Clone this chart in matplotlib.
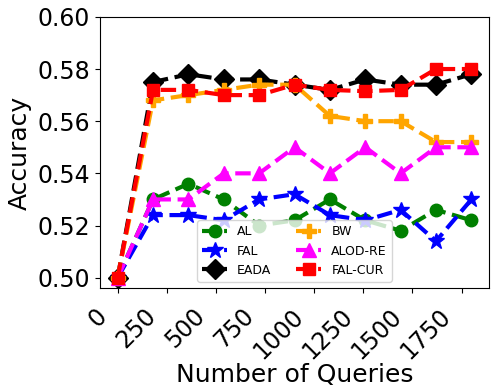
import numpy as np
from matplotlib import pyplot as plt
from matplotlib import transforms

queries = [0, 180, 360, 540, 720, 900, 1080, 1260, 1440, 1620, 1800]

acc_al = [0.500, 0.530, 0.536, 0.530, 0.520, 0.522, 0.530, 0.522, 0.518, 0.526, 0.522]
acc_fal = [0.500, 0.524, 0.524, 0.522, 0.530, 0.532, 0.524, 0.522, 0.526, 0.514, 0.530]
acc_eada = [0.500, 0.575, 0.578, 0.576, 0.576, 0.574, 0.572, 0.576, 0.574, 0.574, 0.578]
acc_bw = [0.500, 0.568, 0.570, 0.572, 0.574, 0.574, 0.562, 0.560, 0.560, 0.552, 0.552]
acc_alod = [0.500, 0.530, 0.530, 0.540, 0.540, 0.550, 0.540, 0.550, 0.540, 0.550, 0.550]
acc_falcur = [0.500, 0.572, 0.572, 0.570, 0.570, 0.574, 0.572, 0.5715, 0.572, 0.580, 0.580]

series = [
    ('AL', acc_al, 'green', 'o', 9),
    ('FAL', acc_fal, 'blue', '*', 12),
    ('EADA', acc_eada, 'black', 'D', 10),
    ('BW', acc_bw, 'orange', 'P', 10),
    ('ALOD-RE', acc_alod, 'magenta', '^', 10),
    ('FAL-CUR', acc_falcur, 'red', 's', 9),
]

fig = plt.figure(figsize=(4.95, 3.92), dpi=100)
ax = fig.add_axes([0.202, 0.265, 0.786, 0.692])

for name, vals, color, marker, ms in series:
    ax.plot(queries, vals, linestyle='--', marker=marker, color=color,
            linewidth=3, markersize=ms, label=name)

ax.set_ylim(top=0.60)
ax.set_yticks([0.50, 0.52, 0.54, 0.56, 0.58, 0.60])
ax.set_xticks([0, 250, 500, 750, 1000, 1250, 1500, 1750])
ax.tick_params(axis='y', labelsize=17)
ax.tick_params(axis='x', labelsize=17)

# shift rotated labels a little down-left, like the original
shift = transforms.ScaledTranslation(-6 / 100, -6 / 100, fig.dpi_scale_trans)
for lbl in ax.get_xticklabels():
    lbl.set_rotation(45)
    lbl.set_ha('right')
    lbl.set_transform(lbl.get_transform() + shift)

ax.set_xlabel('Number of Queries', fontsize=18, labelpad=0)
ax.set_ylabel('Accuracy', fontsize=18)
ax.legend(ncol=2, loc='lower center', fontsize=9)

fig.savefig('out.png', dpi=100)
